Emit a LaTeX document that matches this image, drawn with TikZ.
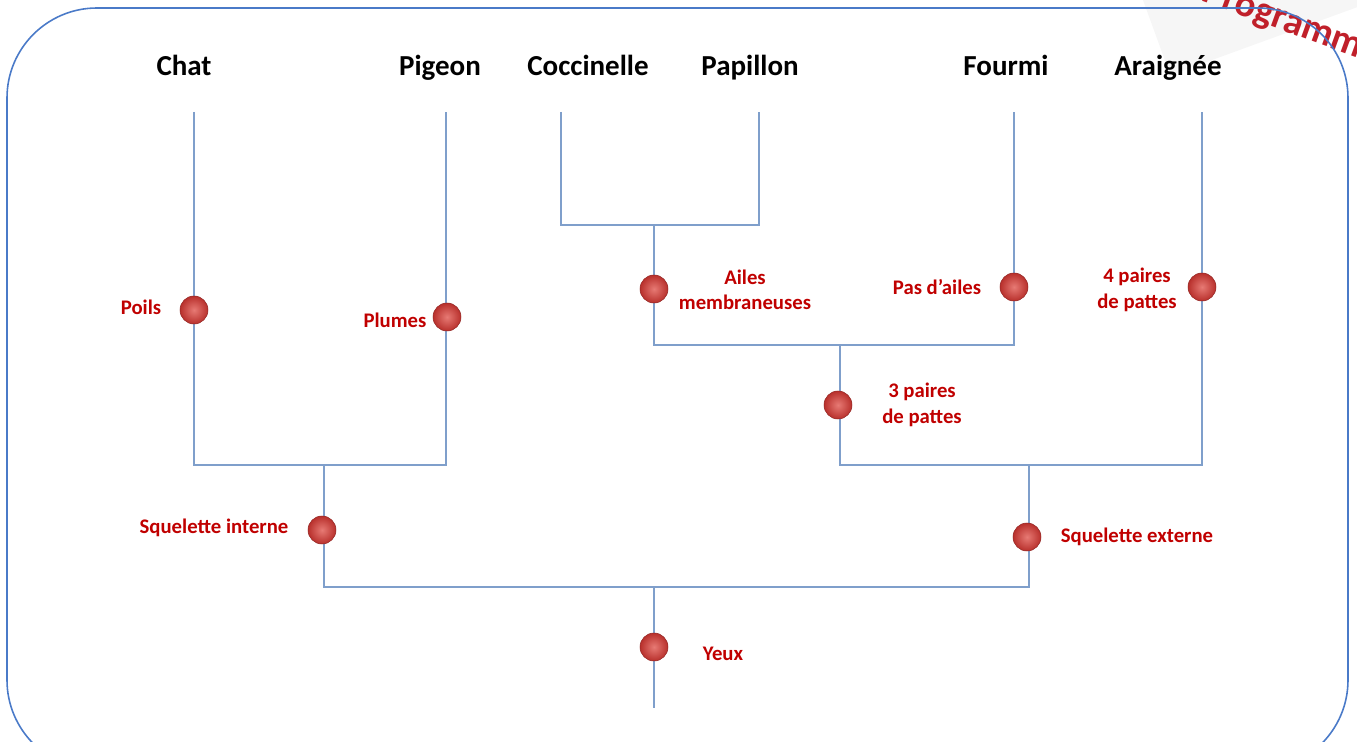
\documentclass[tikz,border=0pt]{standalone}
\usepackage{fontspec}
\setmainfont{Carlito}
\usepackage{xcolor}
\usepackage{tikz}
\usetikzlibrary{positioning,calc}
\definecolor{branche}{HTML}{7F9FCB}
\definecolor{cadre}{HTML}{4A7AC8}
\definecolor{caractere}{HTML}{C00000}
\definecolor{tampon}{HTML}{C0202A}
\definecolor{bouleclair}{HTML}{E77A74}
\definecolor{bouleombre}{HTML}{B8302C}
\def\BallSize{0.56cm}

\begin{document}
\begin{tikzpicture}[x=0.02cm,y=-0.02cm,
	taxon/.style={font=\fontsize{16.5}{18}\selectfont\bfseries,text=black,inner sep=0pt,anchor=base},
	trait/.style={font=\fontsize{11.8}{14.5}\selectfont\bfseries,text=caractere,align=center,inner sep=0pt},
	boule/.style={circle,minimum size=\BallSize,inner sep=0pt,draw=bouleombre!80!black,line width=0.3pt,
		inner color=bouleclair,outer color=bouleombre},
	branch/.style={draw=branche,line width=0.8pt}]
	\useasboundingbox (0,0) rectangle (1357,742);
	\clip (0,0) rectangle (1357,742);
	% tampon en haut a droite
	\fill[gray!7,rotate around={20:(1260,0)}] (1150,-80) rectangle (1420,40);
	\node[rotate=-20,text=tampon,font=\fontsize{22}{22}\selectfont\bfseries] (stamp) at (1292,24) {Programme};
	% cadre
	\draw[cadre,line width=0.9pt,rounded corners=1.8cm] (7,8) rectangle (1348,770);
	% les six animaux
	\node[taxon] (chat) at (184,76) {Chat};
	\node[taxon] (pigeon) at (440,76) {Pigeon};
	\node[taxon] (cocc) at (588,76) {Coccinelle};
	\node[taxon] (papil) at (750,76) {Papillon};
	\node[taxon] (fourmi) at (1006,76) {Fourmi};
	\node[taxon] (araig) at (1168,76) {Araignée};
	% points de branchement
	\coordinate (chat0) at (194,112);
	\coordinate (pigeon0) at (446,112);
	\coordinate (cocc0) at (561,112);
	\coordinate (papil0) at (759,112);
	\coordinate (fourmi0) at (1014,112);
	\coordinate (araig0) at (1202,112);
	\coordinate (chatb) at (194,465);
	\coordinate (pigeonb) at (446,465);
	\coordinate (coccb) at (561,225);
	\coordinate (papilb) at (759,225);
	\coordinate (insb) at (654,225);
	\coordinate (fourmib) at (1014,345);
	\coordinate (insa) at (654,345);
	\coordinate (hexa) at (840,345);
	\coordinate (hexb) at (840,465);
	\coordinate (araigb) at (1202,465);
	\coordinate (vert) at (324,465);
	\coordinate (arth) at (1029,465);
	\coordinate (verta) at (324,587);
	\coordinate (artha) at (1029,587);
	\coordinate (root) at (654,587);
	\coordinate (root0) at (654,708);
	%
	\draw[branch] (chat0) -- (chatb) -- (pigeonb) -- (pigeon0);
	\draw[branch] (cocc0) -- (coccb) -- (papilb) -- (papil0);
	\draw[branch] (insb) -- (insa) -- (fourmib) -- (fourmi0);
	\draw[branch] (hexa) -- (hexb) -- (araigb) -- (araig0);
	\draw[branch] (vert) -- (verta) -- (artha) -- (arth);
	\draw[branch] (root) -- (root0);
	% caracteres
	\node[boule] (poils) at (194,310) {};
	\node[trait] at (141,307) {Poils};
	\node[boule] (plumes) at (447,317) {};
	\node[trait] at (395,320) {Plumes};
	\node[boule] (ailes) at (654,289) {};
	\node[trait] at (745,290) {Ailes\\membraneuses};
	\node[boule] (pasailes) at (1014,287) {};
	\node[trait] at (937,287) {Pas d’ailes};
	\node[boule] (quatre) at (1202,287) {};
	\node[trait] at (1137,290) {4 paires\\de pattes};
	\node[boule] (trois) at (838,405) {};
	\node[trait] at (922,405) {3 paires\\de pattes};
	\node[boule] (sqint) at (322,530) {};
	\node[trait] at (214,528) {Squelette interne};
	\node[boule] (sqext) at (1027,537) {};
	\node[trait] at (1137,537) {Squelette externe};
	\node[boule] (yeux) at (654,647) {};
	\node[trait] at (723,654) {Yeux};
\end{tikzpicture}
\end{document}
